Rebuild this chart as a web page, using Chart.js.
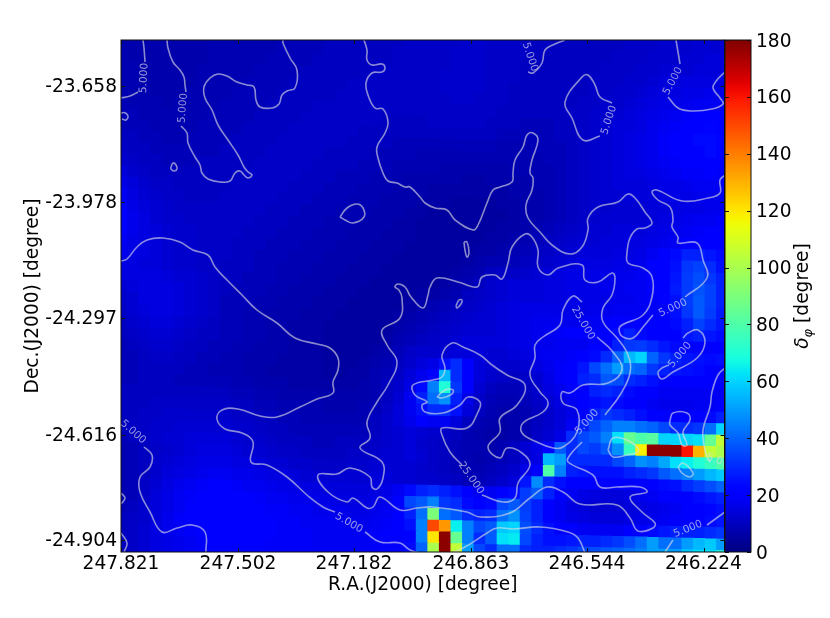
<!DOCTYPE html>
<html>
<head>
<meta charset="utf-8">
<script src="https://cdn.jsdelivr.net/npm/chart.js@4/dist/chart.umd.min.js"></script>
<style>
body { margin: 0; background: #fff; }
canvas { position: absolute; left: 0; top: 0; }
</style>
</head>
<body>
<canvas id="map" width="830" height="618"></canvas>
<canvas id="bar" width="830" height="618"></canvas>
<script>
// tick labels and where they sit, in map units (map is 603.5 x 512)
const raLabels = ["247.821", "247.502", "247.182", "246.863", "246.544", "246.224"];
const raTicks = [0, 117, 233, 350, 466, 582.5];
const decLabels = ["-23.658", "-23.978", "-24.297", "-24.616", "-24.904"];
const decTicks = [46, 162, 278, 395, 500];
const barTicks = [0, 20, 40, 60, 80, 100, 120, 140, 160, 180];

// delta phi per map cell. one line per row, top to bottom
const deltaPhi = [
[7,7,7,7,7,7,7,7,8,8,8,8,8,8,9,9,9,9,10,10,10,10,10,10,10,11,11,11,11,11,12,12,11,11,11,11,10,10,10,10,10,10,10,10,11,11,11,12,12,12,13,13,13],
[7,7,7,7,7,7,7,7,8,8,8,8,8,8,9,9,9,9,10,10,10,10,10,10,10,11,11,11,11,11,12,12,11,11,11,11,10,10,10,10,10,10,10,10,11,11,11,12,12,12,13,13,13],
[7,7,7,7,7,7,7,7,8,8,8,8,8,8,9,9,9,9,10,10,10,10,10,10,11,11,11,11,11,12,12,12,11,11,11,11,10,10,10,10,10,10,10,11,11,11,12,12,12,13,13,14,14],
[8,7,7,7,7,7,7,7,8,8,8,8,8,9,9,9,9,10,10,10,10,10,10,10,11,11,11,11,11,12,12,12,11,11,11,10,10,10,10,10,10,10,11,11,11,12,12,13,13,13,14,14,14],
[8,8,7,7,7,7,7,8,8,8,8,8,9,9,9,9,10,10,10,10,10,10,11,11,11,11,11,11,12,12,12,12,11,11,11,10,10,10,10,10,10,11,11,11,12,12,13,14,14,15,15,15,15],
[8,8,7,7,7,7,7,8,8,8,8,9,9,9,9,10,10,10,10,10,11,11,11,11,11,11,11,11,12,12,12,12,11,11,10,10,10,10,10,10,10,11,11,12,12,13,14,15,15,16,16,17,16],
[8,8,8,7,7,7,8,8,8,8,9,9,9,9,10,10,10,10,10,11,11,11,11,11,11,11,11,11,11,12,12,11,11,11,10,10,10,10,10,10,11,11,12,12,13,14,15,16,16,17,18,18,18],
[9,8,8,8,7,8,8,8,8,9,9,9,9,10,10,10,10,11,11,11,11,11,11,11,11,11,11,11,11,11,11,11,11,10,10,10,10,10,10,11,11,12,12,13,14,15,16,17,18,19,20,20,20],
[9,9,8,8,8,8,8,8,9,9,9,9,10,10,10,10,11,11,11,11,11,11,11,10,10,10,10,11,11,11,11,11,10,10,10,9,9,9,10,10,11,12,13,14,14,15,17,18,19,21,22,23,22],
[9,9,9,8,8,8,8,9,9,9,9,10,10,10,10,11,11,11,11,11,11,10,10,10,10,10,10,10,10,10,10,10,10,9,9,9,9,9,10,10,11,12,13,14,15,16,17,19,20,22,24,24,23],
[10,10,9,9,8,8,9,9,9,9,10,10,10,10,11,11,11,11,11,11,10,10,10,10,9,9,9,9,9,9,9,9,9,8,8,8,9,9,9,10,11,12,13,14,15,16,17,19,20,21,22,24,22],
[11,10,10,9,9,9,9,9,9,10,10,10,10,11,11,11,11,11,10,10,10,10,9,9,9,9,8,8,8,8,8,8,8,8,8,8,8,9,9,10,11,12,13,14,15,16,17,18,19,20,21,22,21],
[12,11,10,10,9,9,9,10,10,10,10,10,11,11,11,11,11,10,10,10,10,9,9,9,8,8,8,8,7,7,7,7,7,7,8,8,8,8,9,10,11,12,13,14,15,15,16,17,18,19,19,20,19],
[14,12,11,10,10,10,10,10,10,10,10,11,11,11,11,11,10,10,10,9,9,9,8,8,8,7,7,7,7,7,6,6,7,7,7,7,8,8,9,10,11,12,13,14,14,14,15,16,16,17,18,18,18],
[16,14,12,11,11,10,10,10,10,10,11,11,11,11,11,10,10,10,9,9,9,8,8,8,7,7,7,6,6,6,6,6,6,6,7,7,7,8,9,10,11,12,13,13,14,14,14,15,16,16,17,17,17],
[18,15,13,12,11,11,10,10,10,11,11,11,11,11,10,10,10,9,9,9,8,8,8,7,7,7,6,6,6,5,5,5,5,6,6,7,7,8,9,10,11,12,12,13,13,13,14,14,15,16,16,17,17],
[20,16,14,13,12,11,11,11,11,11,11,11,11,10,10,10,9,9,9,8,8,8,7,7,7,6,6,5,5,5,5,5,5,5,6,7,7,8,9,10,11,12,13,13,13,13,14,15,16,17,18,18,19],
[21,17,15,13,12,12,11,11,11,11,11,11,10,10,10,9,9,9,8,8,8,7,7,7,6,6,5,5,5,5,5,5,5,6,6,7,8,9,10,11,12,13,13,14,14,14,15,16,17,18,19,20,20],
[20,17,15,14,13,12,12,11,11,11,11,10,10,10,9,9,9,8,8,8,7,7,7,6,6,6,5,5,5,5,5,5,6,6,7,8,9,10,11,12,13,13,14,14,15,15,16,17,18,20,20,21,21],
[18,16,15,14,13,12,12,11,11,11,10,10,10,9,9,9,8,8,8,7,7,7,6,6,6,5,5,5,5,5,5,6,6,7,8,9,10,11,12,13,14,14,14,15,15,16,18,20,24,28,28,26,24],
[17,16,15,14,13,12,12,11,11,11,10,10,9,9,9,8,8,8,7,7,7,6,6,6,5,5,5,5,5,5,6,7,8,8,9,10,11,12,13,14,15,15,15,16,16,17,20,22,25,32,34,30,25],
[16,15,14,14,13,12,12,11,11,10,10,10,9,9,8,8,8,7,7,7,6,6,6,5,5,5,5,5,5,6,7,8,10,11,11,12,13,14,15,16,16,16,16,17,17,18,20,22,26,33,36,32,28],
[15,15,15,15,14,13,13,12,11,10,10,9,9,9,8,8,7,7,7,6,6,6,5,5,5,5,5,5,6,7,8,10,12,13,14,14,14,15,15,16,16,16,17,17,18,18,20,22,27,33,37,34,28],
[13,14,15,15,15,14,13,12,11,10,9,9,9,8,8,7,7,7,6,6,6,5,5,5,5,5,6,6,7,8,10,11,12,13,14,14,14,15,15,16,16,16,16,17,17,18,19,20,25,33,38,34,28],
[12,13,15,15,15,14,13,12,11,9,9,9,8,8,7,7,7,6,6,6,5,5,5,5,5,6,7,8,9,10,11,12,13,14,15,16,16,16,16,16,16,17,17,18,18,18,19,20,25,32,38,33,27],
[11,13,14,15,15,14,13,12,11,9,9,8,8,7,7,7,6,6,6,5,5,5,5,5,6,7,8,9,10,11,12,13,13,14,15,16,17,17,17,17,18,18,19,20,22,22,20,20,24,28,34,30,26],
[10,12,13,14,14,13,12,11,10,9,9,8,8,7,7,6,6,6,5,5,5,5,5,5,7,8,9,10,11,12,13,13,13,14,15,16,17,18,19,20,20,21,22,24,28,24,22,20,22,26,28,26,24],
[10,11,12,13,13,12,11,10,10,9,9,8,8,7,7,6,6,6,5,5,5,5,5,6,8,9,10,11,12,13,14,14,14,14,15,16,17,17,18,18,18,20,22,28,32,33,30,26,24,22,22,22,22],
[9,10,11,12,12,11,10,10,9,9,8,8,7,7,7,6,6,6,5,5,5,5,6,7,9,11,12,12,13,14,14,14,13,13,14,15,17,18,18,19,20,24,30,40,55,60,40,32,28,26,25,24,25],
[9,9,10,11,11,10,10,9,9,8,8,7,7,7,6,6,6,6,5,5,5,6,7,8,10,12,14,16,25,30,20,14,13,12,12,13,15,17,19,22,26,35,42,50,42,40,32,28,26,25,24,22,22],
[9,9,10,10,10,10,9,9,8,8,8,7,7,6,6,6,6,6,5,5,6,6,8,9,11,14,17,20,55,30,22,14,12,11,10,11,13,16,19,22,28,30,38,36,30,28,25,22,21,20,20,20,20],
[9,9,10,10,10,9,9,9,9,9,8,8,7,7,7,6,6,6,6,6,6,7,8,10,12,16,24,45,70,32,20,13,10,9,9,10,12,15,17,20,22,28,30,28,24,22,20,18,18,18,18,18,18],
[10,10,10,10,10,10,10,10,10,10,9,9,8,8,7,7,7,7,7,7,7,7,8,10,13,18,28,42,48,28,16,11,9,8,8,9,11,13,15,18,20,24,26,24,22,20,18,17,17,17,18,18,20],
[10,10,10,11,11,11,11,11,11,11,10,10,9,9,8,8,8,8,7,7,7,8,9,11,14,18,25,30,30,25,14,10,8,7,7,8,10,12,14,16,22,28,32,30,28,25,22,20,20,20,22,24,28],
[10,10,11,11,12,12,12,12,12,12,11,11,10,10,9,9,8,8,8,8,8,8,10,12,14,17,20,18,18,14,10,8,7,6,7,8,10,12,14,18,28,35,40,45,45,42,40,35,30,30,32,42,60],
[10,11,11,12,12,13,13,13,13,13,12,12,11,10,10,9,9,9,9,9,9,9,10,12,13,14,13,12,11,10,8,7,6,6,7,8,11,13,16,30,35,38,45,62,85,80,82,60,60,60,62,85,105],
[9,10,11,12,13,13,14,14,14,14,13,12,12,11,10,10,10,9,9,10,10,10,11,12,13,14,12,11,10,9,8,8,7,8,10,13,16,22,38,30,35,33,38,48,75,118,178,178,178,160,130,105,100],
[8,9,10,11,12,13,14,15,15,15,14,13,13,12,11,11,10,10,10,10,11,11,12,13,13,14,13,11,10,9,8,7,8,9,10,13,15,55,50,30,30,30,30,35,40,48,45,52,62,65,70,75,80],
[8,9,10,12,13,14,15,16,16,16,15,15,14,13,13,12,12,11,11,11,12,12,13,13,13,13,12,11,10,9,8,8,9,10,12,16,22,80,45,28,26,25,25,25,28,30,32,38,42,45,50,55,58],
[8,9,10,12,14,15,16,17,18,18,17,17,16,15,15,14,13,13,13,13,13,13,14,14,13,13,12,12,11,10,9,9,10,12,14,26,47,30,25,22,20,20,20,20,21,22,22,24,25,30,33,36,40],
[8,9,11,13,15,17,18,19,20,20,19,18,18,17,16,16,15,15,14,14,14,14,15,16,18,24,28,30,28,25,22,18,18,20,24,33,38,28,22,18,16,15,14,14,15,17,18,20,20,22,24,26,28],
[8,9,11,14,16,18,19,20,21,21,20,20,19,18,18,17,17,16,16,15,15,15,16,17,20,35,38,45,32,30,24,22,24,35,38,33,28,22,18,15,14,13,13,13,14,15,16,17,18,20,21,23,25],
[9,10,12,14,16,18,20,21,22,22,21,20,20,19,19,18,18,17,17,17,16,16,17,18,22,28,42,90,42,38,30,28,30,42,48,34,28,22,18,16,15,14,14,14,15,16,17,18,19,20,22,24,26],
[10,11,12,14,17,19,20,21,22,22,21,21,20,20,19,19,18,18,18,18,17,17,18,19,22,25,45,150,135,65,45,35,38,58,60,36,30,25,22,20,18,18,18,18,20,22,24,26,28,28,28,30,32],
[10,11,13,15,17,18,19,20,21,21,21,20,20,20,19,19,19,18,18,18,18,18,19,20,22,22,45,120,178,85,45,30,38,62,64,35,28,25,25,26,28,28,30,32,36,42,50,42,42,50,55,58,50],
[10,11,13,15,16,17,18,19,20,20,20,20,20,19,19,19,19,18,18,18,18,18,19,20,22,24,40,100,178,105,50,35,30,42,42,30,28,28,30,32,35,36,38,40,42,45,50,50,50,58,62,62,72],
[10,11,13,15,16,17,18,19,20,20,20,20,20,19,19,19,19,18,18,18,18,18,19,20,22,24,40,100,178,105,50,35,30,42,42,30,28,28,30,32,35,36,38,40,42,45,50,50,50,58,62,62,72]
];

// contour lines, [x, y] in map units
const contours = [
[[22,0],[23,8],[24,22]],
[[17,52],[9,56],[0,58]],
[[0,73],[4,72.7],[7,76],[5,80],[1,79]],
[[46,0],[47,8],[52,22],[59,30],[63,37],[64,45],[65,52]],
[[60,86],[66,93],[67,103],[74,117],[79,125],[81,133],[87,139],[99,142],[109,141],[114,133],[119,131],[123,135],[127,138],[131,135],[127,132],[123,127],[117,115],[107,100],[97,85],[91,70],[84,58],[83,47],[89,38],[97,34],[106,36],[116,42],[126,45],[133,47],[135,60],[139,67],[151,68],[158,64],[161,55],[166,51],[174,48],[176,30],[169,18],[162,3],[162,0]],
[[50,127],[52,123],[55,125],[56,129],[53,131],[50,129],[50,127]],
[[243,0],[246,10],[246,20],[251,25],[261,24],[264,28],[261,32],[251,33],[245,43],[247,55],[254,68],[262,69],[267,82],[264,93],[256,107],[257,118],[262,133],[267,141],[276,143],[284,147],[289,147],[299,157],[304,163],[314,168],[326,170],[334,180],[352,190],[357,185],[366,163],[372,150],[379,147],[391,142],[392,133],[394,120],[402,107],[406,95],[412,93],[417,100],[411,120],[409,133],[412,138],[411,150],[405,165],[407,178],[419,192],[431,205],[449,214],[461,207],[467,190],[467,178],[477,167],[497,162],[507,154],[514,158],[524,172],[531,183],[524,188],[516,189],[509,198],[506,213],[507,223],[522,228],[531,237],[531,257],[522,275],[501,285],[498,290],[502,297],[512,298],[522,287],[532,275]],
[[564,257],[586,238],[582,220],[576,203],[557,203],[557,197],[551,187],[552,180],[549,167],[537,160],[531,152],[536,150],[561,161],[587,158],[599,153],[599,140],[604,135]],
[[444,0],[434,4],[424,10],[421,23],[412,33],[407,32]],
[[491,63],[479,57],[474,45],[467,35],[461,37],[444,62],[451,78],[462,100],[479,96]],
[[555,0],[559,24]],
[[547,57],[557,68],[571,71],[591,69],[602,64],[599,58],[592,48],[596,40],[604,32]],
[[219,177],[226,168],[236,164],[242,168],[243,177],[232,183],[224,180],[219,177]],
[[343,202],[346,202],[348,213],[346,217],[344,210],[343,202]],
[[0,221],[6,219],[16,207],[26,200],[42,198],[59,202],[72,210],[87,215],[94,227],[106,240],[121,255],[136,270],[156,283],[174,298],[196,304],[209,308],[217,318],[217,330],[212,342],[212,353],[196,359],[179,367],[156,377],[139,376],[117,369],[101,370],[96,379],[104,389],[121,393],[132,402],[130,422],[146,425],[166,437],[186,455],[202,467],[214,472]],
[[244,492],[259,502],[279,503],[289,510],[299,513],[319,516],[342,508],[366,493],[376,488],[392,489],[419,487],[447,492],[457,498],[464,513]],
[[461,402],[449,415],[447,422],[472,435],[479,447],[496,447],[519,447],[526,452],[509,457],[521,472],[534,483],[532,488],[517,491],[509,478],[496,465],[459,464],[442,452],[426,447],[409,458],[389,473],[359,477],[346,472],[312,467],[296,468],[279,470],[259,457],[252,467],[246,468],[232,458],[226,462],[207,452],[197,435],[216,434],[229,428],[249,437],[251,447],[256,449],[262,438],[261,422],[239,408],[249,398],[246,382],[256,362],[267,345],[276,322],[266,305],[261,290],[279,278],[281,258],[278,250],[274,247],[277,244],[284,247],[290,257],[302,268],[307,255],[309,247],[316,238],[337,242],[356,247],[361,237],[374,235],[381,239],[387,223],[391,207],[404,194],[411,197],[417,210],[417,227],[427,235],[437,228],[461,225],[464,240],[477,242],[491,233],[494,238],[491,255],[482,268],[482,282],[496,298],[507,315],[509,333],[499,355],[484,375]],
[[461,262],[452,256],[442,270],[439,285],[422,297],[414,305],[414,318],[409,335],[419,352],[427,362],[422,372],[402,383],[401,393],[416,402],[432,408],[442,407],[456,392],[456,370],[442,363],[441,352],[449,353],[462,345],[487,343],[501,330],[492,312],[476,297]],
[[361,455],[382,462],[394,458],[397,443],[409,425],[401,413],[386,408],[379,418],[367,407],[379,392],[379,378],[396,365],[404,345],[386,335],[371,325],[359,315],[342,307],[331,303],[321,315],[324,328],[321,337],[312,340],[292,345],[294,355],[306,362],[301,365],[304,372],[322,373],[339,365],[347,357],[359,362],[357,372],[346,388],[321,388],[321,395],[329,412],[341,425]],
[[316,357],[324,350],[332,350],[331,354],[321,358],[316,357]],
[[335,266],[338,260],[341,260],[340,264],[336,268],[335,266]],
[[562,298],[567,293],[577,290],[584,302],[576,318],[552,332],[541,339],[537,333],[541,328],[548,325]],
[[604,328],[597,335],[591,352],[589,367],[582,390],[584,410],[589,422]],
[[549,380],[552,373],[566,373],[569,380],[562,392],[566,405],[561,405],[557,393],[549,385],[549,380]],
[[557,427],[562,423],[572,433],[569,437],[561,433],[557,427]],
[[487,410],[492,398],[506,400],[516,407],[517,412],[506,415],[492,417],[487,410]],
[[544,512],[552,500]],
[[586,485],[604,472]],
[[23,407],[31,415],[29,427],[19,437],[19,452],[29,472],[41,492],[56,488],[71,485],[84,492],[85,512]],
[[0,453],[4,458],[0,464]],
[[0,493],[6,503],[3,512]]
];

// contour labels
const labelText = ["5.000", "5.000", "5.000", "5.000", "5.000", "5.000", "5.000", "5.000", "5.000", "5.000", "5.000", "5.000", "25.000", "25.000"];
const labelX = [23, 62, 409, 488, 552, 552, 559, 466, 12, 228, 567, 600, 462, 350];
const labelY = [38, 68, 17, 80, 41, 268, 315, 382, 392, 483, 489, 422, 283, 438];
const labelAngle = [-87, -85, 72, -72, -62, -25, -50, -48, 42, 30, -22, 20, 60, 55];

function interp(t, xs, ys) {
   for (let i = 1; i < xs.length; i++) {
      if (t <= xs[i]) {
         return ys[i - 1] + (ys[i] - ys[i - 1]) * (t - xs[i - 1]) / (xs[i] - xs[i - 1]);
      }
   }
   return ys[ys.length - 1];
}

// matplotlib jet
function jet(v) {
   const t = v / 180;
   const r = interp(t, [0, 0.35, 0.66, 0.89, 1], [0, 0, 1, 1, 0.5]);
   const g = interp(t, [0, 0.125, 0.375, 0.64, 0.91, 1], [0, 0, 1, 1, 0, 0]);
   const b = interp(t, [0, 0.11, 0.34, 0.65, 1], [0.5, 1, 1, 0, 0]);
   return `rgb(${Math.round(r * 255)},${Math.round(g * 255)},${Math.round(b * 255)})`;
}

// cells sit on a slightly tilted grid, each column a little lower than the last
const cellSize = 11.55;
const cellTilt = 0.3;
const cells = [];
const cellColors = [];
deltaPhi.forEach((row, j) => {
   row.forEach((v, k) => {
      cells.push({ x: 0.73 + cellSize * k, y: 0.78 + cellSize * (j - 1) + cellTilt * (k - 27) });
      cellColors.push(jet(v));
   });
});

const lineColor = "rgba(222,222,228,0.62)";
const datasets = [{
   data: cells,
   order: 2,
   showLine: false,
   pointStyle: "rect",
   pointRadius: 8.8,
   pointBorderWidth: 0,
   pointBackgroundColor: cellColors,
}];
contours.forEach((line) => {
   datasets.push({
      data: line.map((p) => ({ x: p[0], y: p[1] })),
      order: 1,
      showLine: true,
      tension: 0.42,
      pointRadius: 0,
      borderColor: lineColor,
      borderWidth: 1.6,
   });
});

const font = "DejaVu Sans";
const fontSize = 18.6;

// contour labels, frame and the small inward ticks
const mapExtras = {
   id: "mapExtras",
   afterDatasetsDraw(chart) {
      const { ctx, chartArea: a, scales } = chart;
      ctx.save();
      ctx.beginPath();
      ctx.rect(a.left, a.top, a.right - a.left, a.bottom - a.top);
      ctx.clip();
      ctx.fillStyle = "rgba(215,215,235,0.7)";
      ctx.font = `10.5px "${font}"`;
      ctx.textAlign = "center";
      ctx.textBaseline = "middle";
      labelText.forEach((t, i) => {
         ctx.save();
         ctx.translate(scales.x.getPixelForValue(labelX[i]), scales.y.getPixelForValue(labelY[i]));
         ctx.rotate(labelAngle[i] * Math.PI / 180);
         ctx.fillText(t, 0, 0);
         ctx.restore();
      });
      ctx.restore();

      ctx.save();
      ctx.strokeStyle = "#111";
      ctx.lineWidth = 1;
      ctx.beginPath();
      raTicks.forEach((v) => {
         const x = Math.round(scales.x.getPixelForValue(v)) + 0.5;
         ctx.moveTo(x, a.bottom);
         ctx.lineTo(x, a.bottom - 4);
         ctx.moveTo(x, a.top);
         ctx.lineTo(x, a.top + 4);
      });
      decTicks.forEach((v) => {
         const y = Math.round(scales.y.getPixelForValue(v)) + 0.5;
         ctx.moveTo(a.left, y);
         ctx.lineTo(a.left + 4, y);
         ctx.moveTo(a.right, y);
         ctx.lineTo(a.right - 4, y);
      });
      ctx.stroke();
      ctx.strokeRect(a.left, a.top, a.right - a.left, a.bottom - a.top);
      ctx.restore();
   },
};

new Chart(document.getElementById("map"), {
   type: "scatter",
   data: { datasets },
   plugins: [mapExtras],
   options: {
      responsive: false,
      animation: false,
      events: [],
      layout: { padding: { top: 40, right: 105.5, left: 0, bottom: 0 } },
      plugins: { legend: { display: false }, tooltip: { enabled: false } },
      scales: {
         x: {
            type: "linear",
            min: 0,
            max: 603.5,
            grid: { display: false, drawTicks: false },
            border: { display: false },
            afterBuildTicks(scale) {
               scale.ticks = raTicks.map((value) => ({ value }));
            },
            afterFit(scale) {
               scale.height = 66;
            },
            ticks: {
               autoSkip: false,
               maxRotation: 0,
               padding: 1,
               color: "#000",
               font: { family: font, size: fontSize },
               callback: (v, i) => raLabels[i],
            },
            title: {
               display: true,
               text: "R.A.(J2000) [degree]",
               color: "#000",
               font: { family: font, size: fontSize },
               padding: { top: 0, bottom: 22 },
            },
         },
         y: {
            type: "linear",
            reverse: true,
            min: 0,
            max: 512,
            grid: { display: false, drawTicks: false },
            border: { display: false },
            afterBuildTicks(scale) {
               // labels sit a touch below their tick in the reference
               scale.ticks = decTicks.map((value) => ({ value: value + 1.5 }));
            },
            afterFit(scale) {
               scale.width = 121;
            },
            ticks: {
               autoSkip: false,
               padding: 4,
               color: "#000",
               font: { family: font, size: fontSize },
               callback: (v, i) => decLabels[i],
            },
            title: {
               display: true,
               text: "Dec.(J2000) [degree]",
               color: "#000",
               font: { family: font, size: fontSize },
               padding: { top: 22, bottom: 0 },
            },
         },
      },
   },
});

const barExtras = {
   id: "barExtras",
   afterDraw(chart) {
      const { ctx, chartArea: a, scales } = chart;
      ctx.save();
      ctx.strokeStyle = "#111";
      ctx.lineWidth = 1;
      ctx.strokeRect(a.left, a.top, a.right - a.left, a.bottom - a.top);
      ctx.beginPath();
      barTicks.forEach((v) => {
         const y = Math.round(scales.y.getPixelForValue(v)) + 0.5;
         ctx.moveTo(a.right, y);
         ctx.lineTo(a.right - 4, y);
         ctx.moveTo(a.left, y);
         ctx.lineTo(a.left + 4, y);
      });
      ctx.stroke();

      // colorbar title, delta with a phi subscript
      ctx.translate(803, 296);
      ctx.rotate(-Math.PI / 2);
      ctx.fillStyle = "#000";
      ctx.textBaseline = "alphabetic";
      const bits = [
         { t: "δ", f: `italic ${fontSize}px "${font}"`, dy: 0 },
         { t: "φ", f: `italic 13px "${font}"`, dy: 4 },
         { t: " [degree]", f: `${fontSize}px "${font}"`, dy: 0 },
      ];
      let w = 0;
      bits.forEach((b) => {
         ctx.font = b.f;
         w += ctx.measureText(b.t).width;
      });
      let x = -w / 2;
      bits.forEach((b) => {
         ctx.font = b.f;
         ctx.fillText(b.t, x, 5 + b.dy);
         x += ctx.measureText(b.t).width;
      });
      ctx.restore();
   },
};

new Chart(document.getElementById("bar"), {
   type: "bar",
   data: {
      labels: ["delta phi"],
      datasets: [{
         data: [180],
         barPercentage: 1,
         categoryPercentage: 1,
         backgroundColor(context) {
            const { ctx, chartArea: a } = context.chart;
            if (!a) return "#000";
            const g = ctx.createLinearGradient(0, a.bottom, 0, a.top);
            for (let v = 0; v <= 180; v += 3) {
               g.addColorStop(v / 180, jet(v));
            }
            return g;
         },
      }],
   },
   plugins: [barExtras],
   options: {
      responsive: false,
      animation: false,
      events: [],
      layout: { padding: { top: 40, right: 0, left: 725, bottom: 66 } },
      plugins: { legend: { display: false }, tooltip: { enabled: false } },
      scales: {
         x: { display: false },
         y: {
            position: "right",
            min: 0,
            max: 180,
            grid: { display: false, drawTicks: false },
            border: { display: false },
            afterBuildTicks(scale) {
               // same small label drop as the map axis
               scale.ticks = barTicks.map((value) => ({ value: value - 0.6 }));
            },
            afterFit(scale) {
               scale.width = 79;
            },
            ticks: {
               padding: 5,
               color: "#000",
               font: { family: font, size: fontSize },
               callback: (v, i) => barTicks[i],
            },
         },
      },
   },
});
</script>
</body>
</html>
